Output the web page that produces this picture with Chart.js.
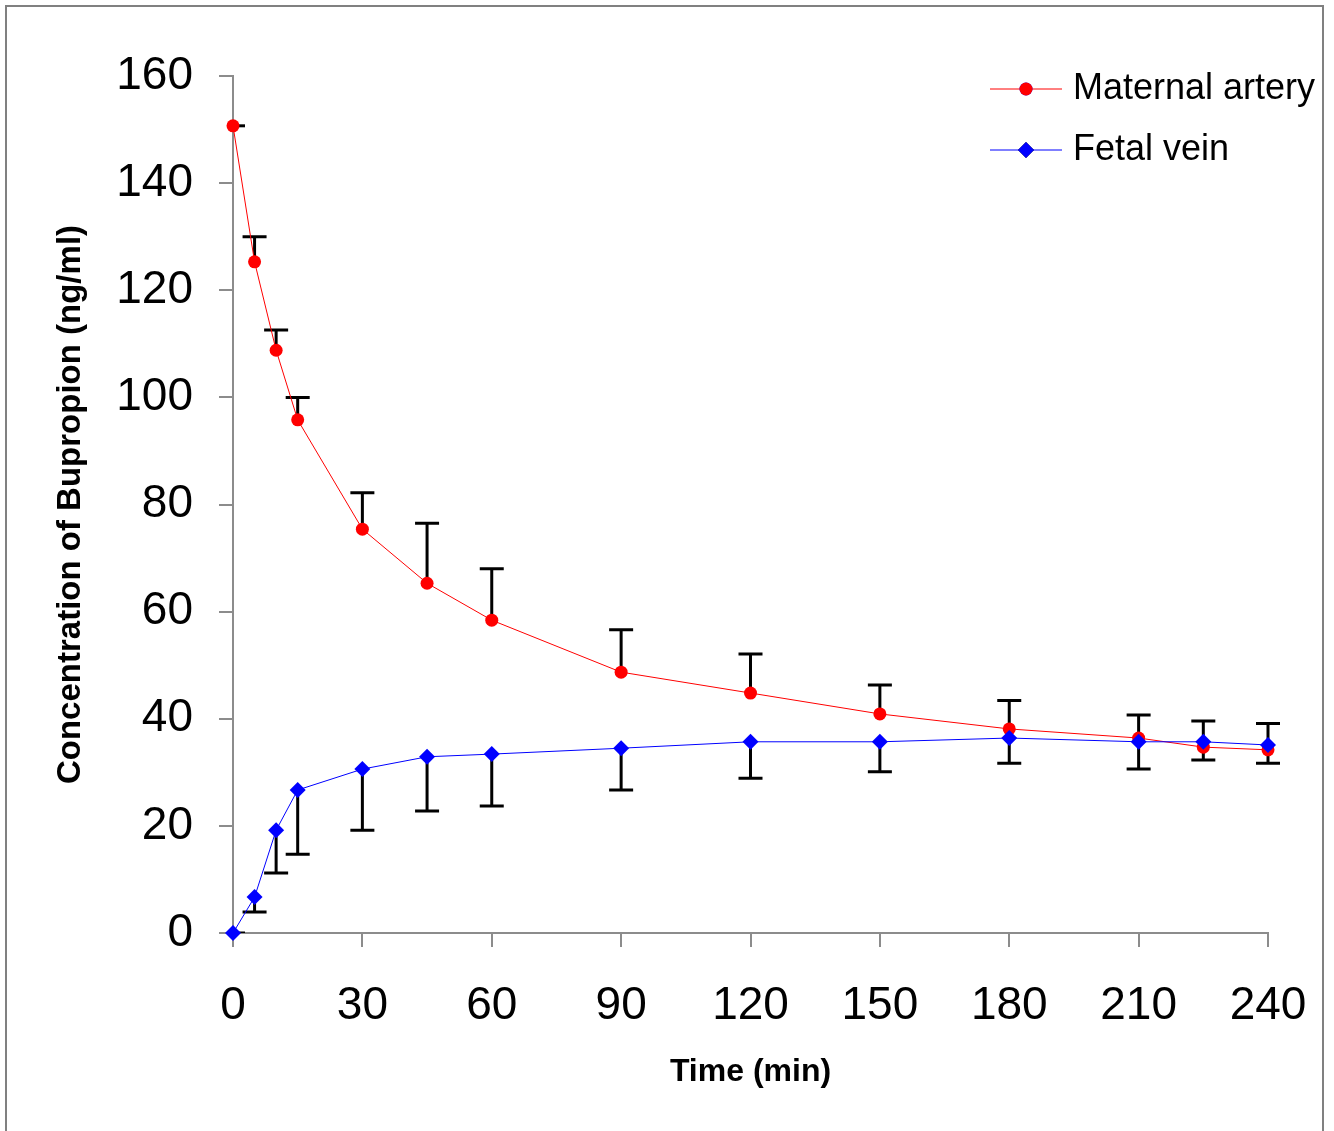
<!DOCTYPE html>
<html>
<head>
<meta charset="utf-8">
<script src="https://cdn.jsdelivr.net/npm/chart.js@4.4.1/dist/chart.umd.min.js"></script>
<style>
  html, body { margin: 0; padding: 0; background: #fff; }
  #wrap { width: 1334px; height: 1131px; position: relative; }
</style>
</head>
<body>
<div id="wrap"><canvas id="myChart" width="1334" height="1131"></canvas></div>
<script>
// データ
var times = [0, 5, 10, 15, 30, 45, 60, 90, 120, 150, 180, 210, 225, 240];
var maternal = [150.7, 125.3, 108.8, 95.8, 75.4, 65.3, 58.4, 48.7, 44.8, 40.9, 38.1, 36.4, 34.7, 34.2];
var maternalSD = [0, 4.7, 3.8, 4.2, 6.8, 11.2, 9.6, 7.9, 7.3, 5.4, 5.3, 4.3, 4.9, 4.9];
var fetal = [0, 6.7, 19.2, 26.7, 30.6, 32.9, 33.4, 34.5, 35.7, 35.7, 36.4, 35.7, 35.7, 35.1];
var fetalSD = [0, 2.8, 8.0, 12.0, 11.4, 10.1, 9.7, 7.8, 6.8, 5.6, 4.7, 5.1, 3.4, 3.4];
var xTicks = [0, 30, 60, 90, 120, 150, 180, 210, 240];
var yTicks = [0, 20, 40, 60, 80, 100, 120, 140, 160];

var FONT = "'Liberation Sans', Arial, sans-serif";
var AXIS_GREY = '#8c8c8c';

function toPoints(values) {
    return times.map(function (t, i) { return { x: t, y: values[i] }; });
}

// エラーバー (母体は上向き、胎児は下向き)
var errorBars = {
    id: 'errorBars',
    beforeDatasetsDraw: function (chart) {
        var ctx = chart.ctx;
        var xs = chart.scales.x, ys = chart.scales.y;
        var area = chart.chartArea;
        ctx.save();
        ctx.beginPath();
        ctx.rect(area.left, area.top - 20, area.right - area.left + 20, area.bottom - area.top + 20);
        ctx.clip();
        ctx.strokeStyle = '#000';
        ctx.lineWidth = 3;
        function bar(t, from, to) {
            var px = xs.getPixelForValue(t);
            var p1 = ys.getPixelForValue(from);
            var p2 = ys.getPixelForValue(to);
            ctx.beginPath();
            ctx.moveTo(px, p1);
            ctx.lineTo(px, p2);
            ctx.moveTo(px - 12, p2);
            ctx.lineTo(px + 12, p2);
            ctx.stroke();
        }
        times.forEach(function (t, i) {
            bar(t, maternal[i], maternal[i] + maternalSD[i]);
            bar(t, fetal[i], fetal[i] - fetalSD[i]);
        });
        ctx.restore();
    }
};

// 凡例と外枠
var legendAndFrame = {
    id: 'legendAndFrame',
    afterDraw: function (chart) {
        var ctx = chart.ctx;
        ctx.save();
        ctx.strokeStyle = '#808080';
        ctx.lineWidth = 2;
        ctx.beginPath();
        ctx.moveTo(6, 1140);
        ctx.lineTo(6, 6);
        ctx.lineTo(1323, 6);
        ctx.lineTo(1323, 1140);
        ctx.stroke();

        var items = [chart.data.datasets[1], chart.data.datasets[0]];
        items.forEach(function (ds, i) {
            var y = 89 + i * 61;
            ctx.strokeStyle = ds.borderColor;
            ctx.lineWidth = 1;
            ctx.beginPath();
            ctx.moveTo(990, y);
            ctx.lineTo(1062, y);
            ctx.stroke();
            Chart.helpers.drawPoint(ctx, {
                pointStyle: ds.pointStyle,
                radius: ds.pointRadius,
                borderWidth: 0
            }, 1026, y);
            ctx.fillStyle = ds.pointBackgroundColor;
            ctx.fill();
            ctx.fillStyle = '#000';
            ctx.font = '36px ' + FONT;
            ctx.textBaseline = 'middle';
            ctx.textAlign = 'left';
            ctx.fillText(ds.label, 1073, y);
        });
        ctx.restore();
    }
};

var ctx = document.getElementById('myChart');
new Chart(ctx, {
    type: 'line',
    data: {
        datasets: [{
            label: 'Fetal vein',
            data: toPoints(fetal),
            borderColor: '#0000ff',
            borderWidth: 1,
            pointStyle: 'rectRot',
            pointRadius: 8,
            pointBackgroundColor: '#0000ff',
            pointBorderWidth: 0,
            tension: 0,
            clip: false
        }, {
            label: 'Maternal artery',
            data: toPoints(maternal),
            borderColor: '#ff0000',
            borderWidth: 1,
            pointStyle: 'circle',
            pointRadius: 6.5,
            pointBackgroundColor: '#ff0000',
            pointBorderWidth: 0,
            tension: 0,
            clip: false
        }]
    },
    options: {
        responsive: false,
        animation: false,
        devicePixelRatio: 1,
        layout: { autoPadding: false, padding: { left: 0, top: 76, right: 66, bottom: 0 } },
        plugins: {
            legend: { display: false },
            tooltip: { enabled: false }
        },
        scales: {
            x: {
                type: 'linear',
                min: 0,
                max: 240,
                afterBuildTicks: function (scale) {
                    scale.ticks = xTicks.map(function (v) { return { value: v }; });
                },
                afterFit: function (scale) {
                    scale.height = 198;
                    scale.paddingLeft = 0;
                    scale.paddingRight = 0;
                },
                ticks: {
                    color: '#000',
                    font: { family: FONT, size: 46 },
                    padding: 32,
                    maxRotation: 0
                },
                grid: { drawOnChartArea: false, drawTicks: true, tickLength: 14, color: AXIS_GREY, lineWidth: 2 },
                border: { display: true, color: AXIS_GREY, width: 2 },
                title: {
                    display: true,
                    text: 'Time (min)',
                    color: '#000',
                    font: { family: FONT, size: 32, weight: 'bold' },
                    padding: { top: 0, bottom: 40 }
                }
            },
            y: {
                type: 'linear',
                min: 0,
                max: 160,
                afterBuildTicks: function (scale) {
                    scale.ticks = yTicks.map(function (v) { return { value: v }; });
                },
                afterFit: function (scale) { scale.width = 233; },
                ticks: {
                    color: '#000',
                    font: { family: FONT, size: 46 },
                    padding: 26
                },
                grid: { drawOnChartArea: false, drawTicks: true, tickLength: 14, color: AXIS_GREY, lineWidth: 2 },
                border: { display: true, color: AXIS_GREY, width: 2 },
                title: {
                    display: true,
                    text: 'Concentration of Bupropion (ng/ml)',
                    color: '#000',
                    font: { family: FONT, size: 33, weight: 'bold' },
                    padding: { top: 51, bottom: 0 }
                }
            }
        }
    },
    plugins: [errorBars, legendAndFrame]
});
</script>
</body>
</html>
